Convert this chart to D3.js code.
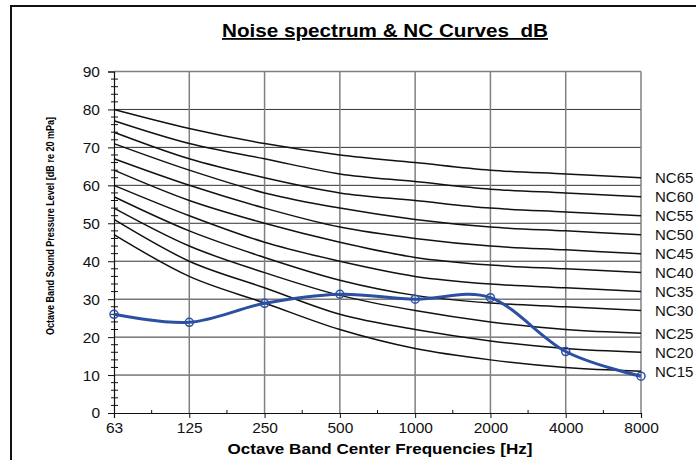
<!DOCTYPE html>
<html>
<head>
<meta charset="utf-8">
<script src="https://cdn.jsdelivr.net/npm/d3@7"></script>
<style>
  body { margin: 0; background: #fff; }
  svg { display: block; font-family: "Liberation Sans", Arial, sans-serif; }
</style>
</head>
<body>
<div class="container"></div>
<script>
const width = 696;
const height = 460;

// octave band centre frequencies
const freqs = ["63", "125", "250", "500", "1000", "2000", "4000", "8000"];

// NC curves, dB per band
const nc15 = [47, 36, 29, 22, 17, 14, 12, 11];
const nc20 = [51, 40, 33, 26, 22, 19, 17, 16];
const nc25 = [54, 44, 37, 31, 27, 24, 22, 21];
const nc30 = [57, 48, 41, 35, 31, 29, 28, 27];
const nc35 = [60, 52, 45, 40, 36, 34, 33, 32];
const nc40 = [64, 56, 50, 45, 41, 39, 38, 37];
const nc45 = [67, 60, 54, 49, 46, 44, 43, 42];
const nc50 = [71, 64, 58, 54, 51, 49, 48, 47];
const nc55 = [74, 67, 62, 58, 56, 54, 53, 52];
const nc60 = [77, 71, 67, 63, 61, 59, 58, 57];
const nc65 = [80, 75, 71, 68, 66, 64, 63, 62];

const ncNames = ["NC15", "NC20", "NC25", "NC30", "NC35", "NC40", "NC45", "NC50", "NC55", "NC60", "NC65"];
const ncCurves = [nc15, nc20, nc25, nc30, nc35, nc40, nc45, nc50, nc55, nc60, nc65];

// measured noise spectrum
const noise = [26.0, 23.9, 28.9, 31.3, 30.0, 30.4, 16.2, 9.7];

const yTicks = [0, 10, 20, 30, 40, 50, 60, 70, 80, 90];

const x = d3.scalePoint().domain(freqs).range([114, 641]);
const y = d3.scaleLinear().domain([0, 90]).range([413, 71.5]);

const svg = d3.select(".container")
  .append("svg")
  .attr("width", width)
  .attr("height", height);

// outer frame (only left and top edges visible)
svg.append("rect")
  .attr("x", 11).attr("y", 6)
  .attr("width", 720).attr("height", 500)
  .attr("fill", "none")
  .attr("stroke", "#111")
  .attr("stroke-width", 2);

// title
svg.append("text")
  .attr("x", 385).attr("y", 37)
  .attr("text-anchor", "middle")
  .attr("font-size", 18)
  .attr("font-weight", "bold")
  .attr("text-decoration", "underline")
  .attr("textLength", 326)
  .attr("lengthAdjust", "spacingAndGlyphs")
  .style("white-space", "pre")
  .text("Noise spectrum & NC Curves  dB");

// horizontal gridlines
svg.append("g")
  .selectAll("line")
  .data(yTicks.filter(d => d > 0 && d < 90))
  .join("line")
  .attr("x1", x("63")).attr("x2", x("8000"))
  .attr("y1", d => y(d)).attr("y2", d => y(d))
  .attr("stroke", "#333")
  .attr("stroke-width", 1);

// vertical gridlines
svg.append("g")
  .selectAll("line")
  .data(freqs.slice(1))
  .join("line")
  .attr("x1", d => x(d)).attr("x2", d => x(d))
  .attr("y1", y(0)).attr("y2", y(90))
  .attr("stroke", "#808080")
  .attr("stroke-width", 1.5);

// top border
svg.append("line")
  .attr("x1", x("63")).attr("x2", x("8000"))
  .attr("y1", y(90)).attr("y2", y(90))
  .attr("stroke", "#808080")
  .attr("stroke-width", 1.5);

// y axis
const yAxis = svg.append("g")
  .attr("transform", `translate(${x("63")},0)`)
  .call(d3.axisLeft(y).tickValues(yTicks).tickSize(6).tickPadding(8));
yAxis.select(".domain").attr("stroke", "#111").attr("stroke-width", 1.2);
yAxis.selectAll(".tick line").attr("stroke", "#111");
yAxis.selectAll("text")
  .attr("font-size", 15.5)
  .attr("font-family", "Liberation Sans, Arial, sans-serif")
  .attr("fill", "#111");

// y minor ticks, every 2 dB, crossing the axis
svg.append("g")
  .selectAll("line")
  .data(d3.range(0, 91, 2).filter(d => d % 10 !== 0))
  .join("line")
  .attr("x1", x("63") - 3).attr("x2", x("63") + 4)
  .attr("y1", d => y(d)).attr("y2", d => y(d))
  .attr("stroke", "#111");

// x axis
const xAxis = svg.append("g")
  .attr("transform", `translate(0,${y(0)})`)
  .call(d3.axisBottom(x).tickSize(5).tickPadding(4));
xAxis.select(".domain").attr("stroke", "#111").attr("stroke-width", 1.2);
xAxis.selectAll(".tick line").attr("stroke", "#111");
xAxis.selectAll("text")
  .attr("font-size", 15.5)
  .attr("font-family", "Liberation Sans, Arial, sans-serif")
  .attr("fill", "#111");

// x minor ticks between bands
svg.append("g")
  .selectAll("line")
  .data(freqs.slice(1))
  .join("line")
  .attr("x1", (d, i) => (x(freqs[i]) + x(d)) / 2)
  .attr("x2", (d, i) => (x(freqs[i]) + x(d)) / 2)
  .attr("y1", y(0) - 3).attr("y2", y(0))
  .attr("stroke", "#111");

// NC curves
const line = d3.line()
  .x((d, i) => x(freqs[i]))
  .y(d => y(d))
  .curve(d3.curveCatmullRom.alpha(0));

svg.append("g")
  .selectAll("path")
  .data(ncCurves)
  .join("path")
  .attr("d", line)
  .attr("fill", "none")
  .attr("stroke", "#111")
  .attr("stroke-width", 1.5);

// NC labels at end of curves
svg.append("g")
  .selectAll("text")
  .data(ncCurves)
  .join("text")
  .attr("x", 655)
  .attr("y", d => y(d[d.length - 1]) + 5.5)
  .attr("font-size", 15)
  .attr("fill", "#111")
  .text((d, i) => ncNames[i]);

// noise spectrum
svg.append("path")
  .attr("d", line(noise))
  .attr("fill", "none")
  .attr("stroke", "#2a4fa3")
  .attr("stroke-width", 3);

svg.append("g")
  .selectAll("circle")
  .data(noise)
  .join("circle")
  .attr("cx", (d, i) => x(freqs[i]))
  .attr("cy", d => y(d))
  .attr("r", 4)
  .attr("fill", "none")
  .attr("stroke", "#2a4fa3")
  .attr("stroke-width", 1.5);

// axis titles
svg.append("text")
  .attr("x", 380).attr("y", 454)
  .attr("text-anchor", "middle")
  .attr("font-size", 15.5)
  .attr("font-weight", "bold")
  .attr("textLength", 305)
  .attr("lengthAdjust", "spacingAndGlyphs")
  .text("Octave Band Center Frequencies [Hz]");

svg.append("text")
  .attr("transform", "translate(54,226) rotate(-90)")
  .attr("text-anchor", "middle")
  .attr("font-size", 11)
  .attr("font-weight", "bold")
  .attr("textLength", 218)
  .attr("lengthAdjust", "spacingAndGlyphs")
  .text("Octave Band Sound Pressure Level [dB re 20 mPa]");
</script>
</body>
</html>
